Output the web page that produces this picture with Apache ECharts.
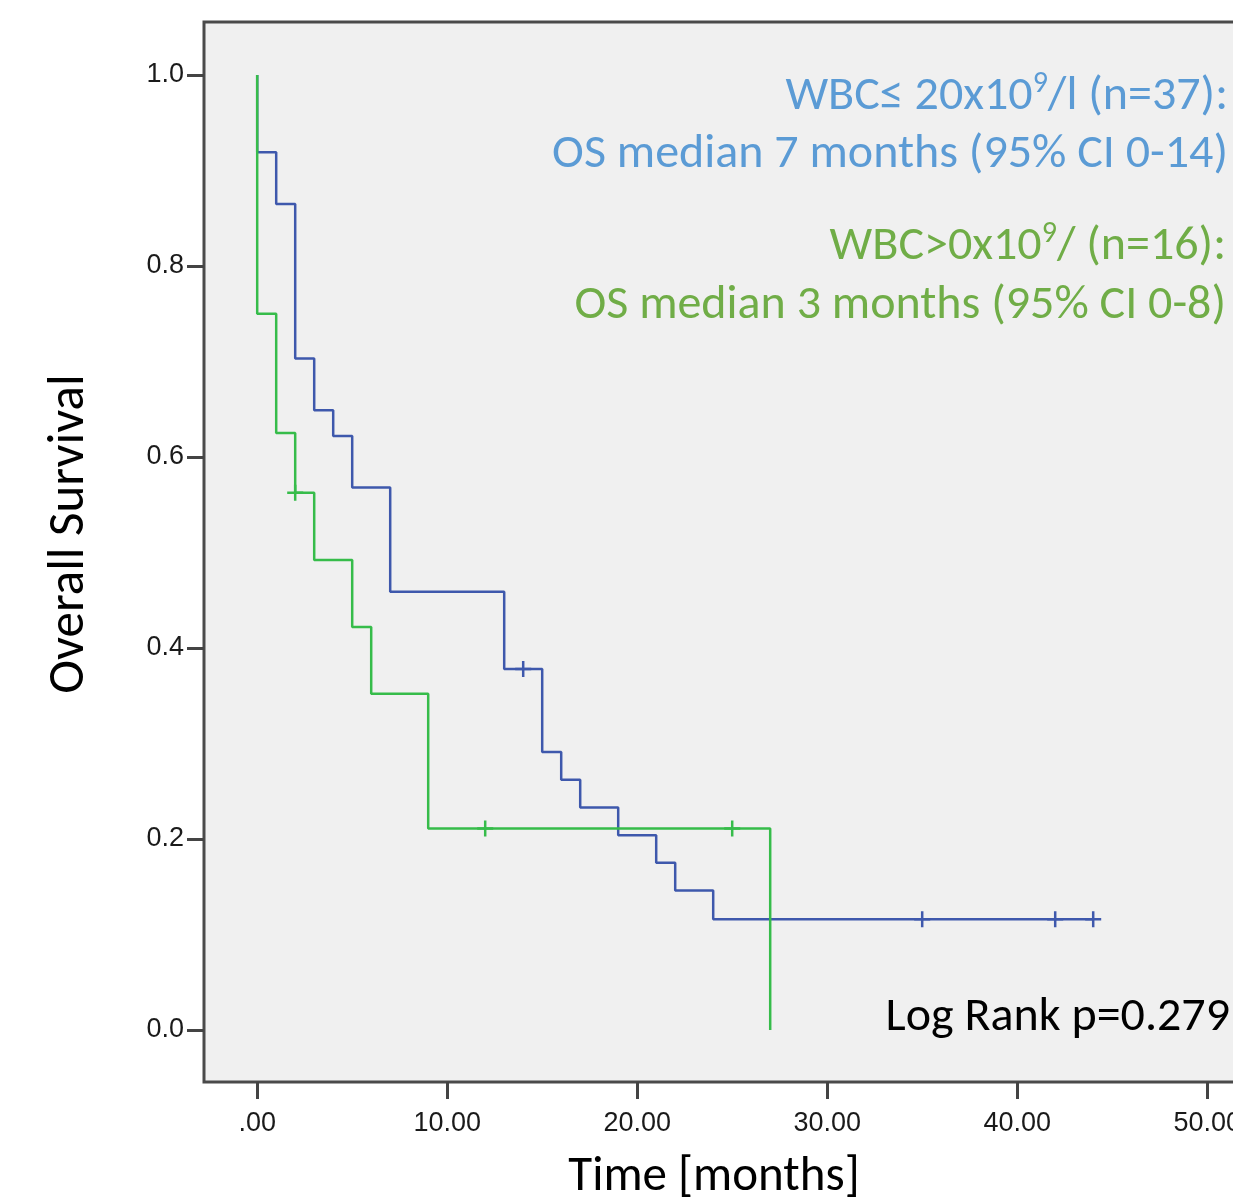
<!DOCTYPE html>
<html>
<head>
<meta charset="utf-8">
<script src="https://cdn.jsdelivr.net/npm/echarts@6/dist/echarts.min.js"></script>
<style>
  html, body { margin: 0; padding: 0; background: #ffffff; }
  #chart { width: 1233px; height: 1203px; }
</style>
</head>
<body>
<div id="chart"></div>
<script>
// ---- Data ----
const xTickValues = [0, 10, 20, 30, 40, 50];
const xTickLabels = ['.00', '10.00', '20.00', '30.00', '40.00', '50.00'];
const yTickValues = [0, 0.2, 0.4, 0.6, 0.8, 1.0];
const yTickLabels = ['0.0', '0.2', '0.4', '0.6', '0.8', '1.0'];

// WBC <= 20x10^9/l (n=37)
const lowTimes    = [0, 0, 1, 2, 3, 4, 5, 7, 13, 15, 16, 17, 19, 21, 22, 24, 44];
const lowSurvival = [1, 0.919, 0.865, 0.703, 0.649, 0.622, 0.568, 0.459, 0.378, 0.291, 0.262, 0.233, 0.204, 0.175, 0.146, 0.116, 0.116];
const lowCensorTimes    = [14, 35, 42, 44];
const lowCensorSurvival = [0.378, 0.116, 0.116, 0.116];

// WBC > 20x10^9/l (n=16)
const highTimes    = [0, 0, 1, 2, 3, 5, 6, 9, 27];
const highSurvival = [1, 0.75, 0.625, 0.5625, 0.492, 0.422, 0.352, 0.211, 0];
const highCensorTimes    = [2, 12, 25];
const highCensorSurvival = [0.5625, 0.211, 0.211];

const pair = (a, b) => a.map((v, i) => [v, b[i]]);

const blueLine = '#3E58AC';
const greenLine = '#36BC4A';
const blueText = '#5B9BD5';
const greenText = '#70AD47';
const txtFont = 'Carlito, Lato, "Open Sans", sans-serif';
const tickFont = '"Liberation Sans", Arial, sans-serif';
const censorPath = 'path://M5,0L5,10M0,5L10,5';

const chart = echarts.init(document.getElementById('chart'), null, { renderer: 'canvas' });

const annoSize = 48, supSize = 30;
function richStyles(color) {
  return {
    n: { fontFamily: txtFont, fontSize: annoSize, fill: color, color: color, lineHeight: 56 },
    s: { fontFamily: txtFont, fontSize: supSize, fill: color, color: color, verticalAlign: 'top', lineHeight: 56 }
  };
}

const option = {
  backgroundColor: '#ffffff',
  animation: false,
  grid: {
    left: 204, top: 22, width: 58.8 * 19, height: 1060,
    show: true, backgroundColor: '#f0f0f0', borderColor: '#4a4a4a', borderWidth: 3,
    containLabel: false, outerBoundsMode: 'none'
  },
  xAxis: {
    type: 'value', min: -2.8, max: 56, position: 'bottom',
    axisLine: { show: false, onZero: false },
    splitLine: { show: false },
    axisTick: { show: true, inside: false, customValues: xTickValues, length: 17, lineStyle: { color: '#444444', width: 3 } },
    axisLabel: {
      customValues: xTickValues, margin: 28, fontFamily: tickFont, fontSize: 27, color: '#1a1a1a',
      formatter: v => xTickLabels[xTickValues.indexOf(v)]
    }
  },
  yAxis: {
    type: 'value', min: -0.0545, max: 1.0555, position: 'left',
    axisLine: { show: false, onZero: false },
    splitLine: { show: false },
    axisTick: { show: true, inside: false, customValues: yTickValues, length: 17, lineStyle: { color: '#444444', width: 3 } },
    axisLabel: {
      customValues: yTickValues, margin: 20, fontFamily: tickFont, fontSize: 27, color: '#1a1a1a',
      formatter: v => yTickLabels[yTickValues.findIndex(t => Math.abs(t - v) < 1e-6)]
    }
  },
  series: [
    {
      name: 'WBC≤20', type: 'line', step: 'end', showSymbol: false, symbol: 'none',
      data: pair(lowTimes, lowSurvival),
      lineStyle: { color: blueLine, width: 2.5 }, z: 2
    },
    {
      name: 'WBC>20', type: 'line', step: 'end', showSymbol: false, symbol: 'none',
      data: pair(highTimes, highSurvival),
      lineStyle: { color: greenLine, width: 2.5 }, z: 3
    },
    {
      name: 'WBC≤20 censored', type: 'scatter', symbol: censorPath, symbolSize: [16, 16],
      data: pair(lowCensorTimes, lowCensorSurvival),
      itemStyle: { color: blueLine, borderColor: blueLine, borderWidth: 2.5, opacity: 1 }, z: 4
    },
    {
      name: 'WBC>20 censored', type: 'scatter', symbol: censorPath, symbolSize: [16, 16],
      data: pair(highCensorTimes, highCensorSurvival),
      itemStyle: { color: greenLine, borderColor: greenLine, borderWidth: 2.5, opacity: 1 }, z: 4
    }
  ],
  graphic: [
    {
      type: 'text', x: 70, y: 534, rotation: Math.PI / 2,
      style: { text: 'Overall Survival', font: '51px ' + txtFont, fill: '#000',
               align: 'center', verticalAlign: 'middle', textAlign: 'center', textVerticalAlign: 'middle' }
    },
    {
      type: 'text', x: 714, y: 1178,
      style: { text: 'Time [months]', font: '49px ' + txtFont, fill: '#000',
               align: 'center', verticalAlign: 'middle', textAlign: 'center', textVerticalAlign: 'middle' }
    },
    {
      type: 'text', x: 1228, y: 97,
      style: { text: '{n|WBC≤ 20x10}{s|9}{n|/l (n=37):}', rich: richStyles(blueText), fill: blueText,
               align: 'right', verticalAlign: 'middle', textAlign: 'right', textVerticalAlign: 'middle' }
    },
    {
      type: 'text', x: 1228, y: 155,
      style: { text: 'OS median 7 months (95% CI 0-14)', font: annoSize + 'px ' + txtFont, fill: blueText,
               align: 'right', verticalAlign: 'middle', textAlign: 'right', textVerticalAlign: 'middle' }
    },
    {
      type: 'text', x: 1226, y: 247,
      style: { text: '{n|WBC>0x10}{s|9}{n|/ (n=16):}', rich: richStyles(greenText), fill: greenText,
               align: 'right', verticalAlign: 'middle', textAlign: 'right', textVerticalAlign: 'middle' }
    },
    {
      type: 'text', x: 1226, y: 306,
      style: { text: 'OS median 3 months (95% CI 0-8)', font: annoSize + 'px ' + txtFont, fill: greenText,
               align: 'right', verticalAlign: 'middle', textAlign: 'right', textVerticalAlign: 'middle' }
    },
    {
      type: 'text', x: 1230, y: 1018,
      style: { text: 'Log Rank p=0.279', font: annoSize + 'px ' + txtFont, fill: '#000',
               align: 'right', verticalAlign: 'middle', textAlign: 'right', textVerticalAlign: 'middle' }
    }
  ]
};

chart.setOption(option);
</script>
</body>
</html>
